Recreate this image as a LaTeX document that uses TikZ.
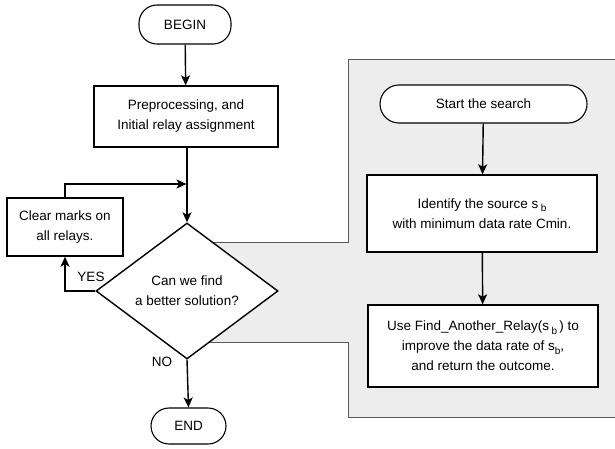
\documentclass[tikz,border=0pt]{standalone}
\usepackage{fontspec}
\setmainfont{Liberation Sans}
\usetikzlibrary{shapes.geometric,arrows.meta}
\newcommand\subb[1]{\raisebox{-0.45ex}{\fontsize{10}{10}\selectfont #1}}
\begin{document}
\begin{tikzpicture}[x=1pt,y=-1pt,
  font=\fontsize{13.5}{20}\selectfont,
  box/.style={draw, line width=1.4pt, fill=white, align=center, inner sep=0pt},
  term/.style={draw, line width=1.1pt, fill=white, rounded rectangle, inner sep=0pt},
  arr/.style={line width=1.4pt, -{Stealth[length=10pt,width=9pt,inset=2.5pt]}},
  ln/.style={line width=1.4pt},
  panel/.style={draw=black!65, fill=black!7, line width=1pt}]
\useasboundingbox (0,0) rectangle (615,449);
% grey panel
\draw[panel] (187,242) -- (348,242) -- (348,60) -- (615,60) -- (615,417) -- (348,417) -- (348,342) -- (187,342) -- cycle;
% left flow
\node[box, rounded corners=18pt, line width=1.1pt, minimum width=92pt, minimum height=39pt] (begin) at (185,24.5) {BEGIN};
\node[box, minimum width=184pt, minimum height=61pt] (pre) at (186,116.5) {Preprocessing, and\\Initial relay assignment};
\node[box, minimum width=116pt, minimum height=58pt] (clear) at (65,227) {Clear marks on\\all relays.};
\node[draw, diamond, line width=1.4pt, fill=white, inner sep=0pt, minimum width=182pt, minimum height=136pt, align=center] (dia) at (187,291) {Can we find\\a better solution?};
\node[box, rounded corners=18pt, line width=1.1pt, minimum width=75pt, minimum height=36pt] (end) at (188.5,426) {END};
\coordinate (join) at (186.5,184);
\draw[arr] (begin) -- (pre);
\draw[arr] (pre.south -| dia.north) -- (dia.north);
\draw[arr] (clear.north) |- (join);
\draw[arr] (dia.west) -| (clear.south);
\draw[arr] (dia.south) -- (end.north);
\node (yes) at (91,277) {YES};
\node (no) at (162,362) {NO};
% right flow
\node[box, rounded corners=19pt, line width=1.1pt, minimum width=207pt, minimum height=38pt] (start) at (483.5,104) {Start the search};
\node[box, minimum width=230pt, minimum height=77pt] (ident) at (482,213.5) {Identify the source s\,\subb{b}\\with minimum data rate Cmin.};
\node[box, minimum width=230pt, minimum height=82pt] (use) at (483,346) {Use Find\_Another\_Relay(s\,\subb{b}\,) to\\improve the data rate of s\subb{b},\\and return the outcome.};
\draw[arr] (start) -- (ident);
\draw[arr] (ident) -- (use);
\end{tikzpicture}
\end{document}
